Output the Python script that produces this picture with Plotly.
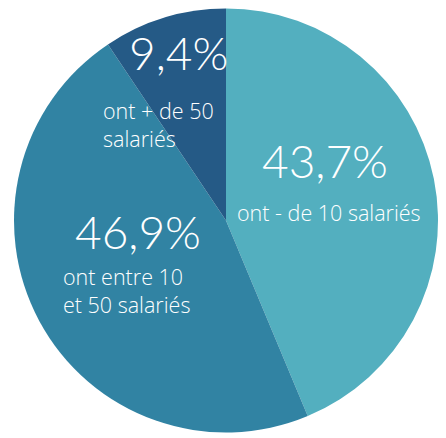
import plotly.graph_objects as go

W, H = 446, 438

categories = ["ont - de 10 salariés", "ont entre 10<br>et 50 salariés", "ont + de 50<br>salariés"]
values = [43.7, 46.9, 9.4]
pct_labels = ["43,7%", "46,9%", "9,4%"]
colors = ["#53afbf", "#3183a3", "#255a86"]

# pixel positions of the text blocks (percent center, label top-left)
pct_pos = [(325, 160), (138, 231), (178, 52)]
lab_pos = [(235, 196), (61, 260), (101, 94)]

cx, cy, r = 226, 220.5, 212
fig = go.Figure(go.Pie(
    values=values,
    labels=categories,
    marker=dict(colors=colors, line=dict(width=0)),
    sort=False,
    direction="clockwise",
    rotation=0,
    textinfo="none",
    hoverinfo="none",
    showlegend=False,
    domain=dict(x=[(cx - r) / W, (cx + r) / W], y=[1 - (cy + r) / H, 1 - (cy - r) / H]),
))

ann = []
for (px, py), t in zip(pct_pos, pct_labels):
    ann.append(dict(x=px / W, y=1 - py / H, xref="paper", yref="paper", text=t,
                    showarrow=False, xanchor="center", yanchor="middle",
                    font=dict(family="Lato", size=46, color="white", weight=300)))
for (px, py), t in zip(lab_pos, categories):
    ann.append(dict(x=px / W, y=1 - py / H, xref="paper", yref="paper", text=t,
                    showarrow=False, xanchor="left", yanchor="top", align="left",
                    font=dict(family="Open Sans", size=21.5, color="white", weight=300)))

fig.update_layout(width=W, height=H, margin=dict(l=0, r=0, t=0, b=0),
                  paper_bgcolor="white", plot_bgcolor="white", annotations=ann)
fig.write_html("out.html")
